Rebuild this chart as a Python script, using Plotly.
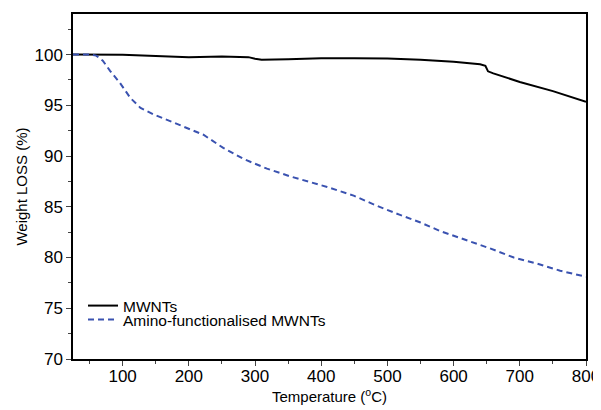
import plotly.graph_objects as go

# MWNTs (black, solid)
mwnt_T = [25, 50, 100, 150, 200, 250, 290, 300, 310, 350, 400, 450, 500, 550, 600, 640, 648, 652, 660, 700, 750, 800]
mwnt_W = [100, 100, 99.98, 99.85, 99.75, 99.8, 99.75, 99.6, 99.5, 99.55, 99.65, 99.65, 99.62, 99.5, 99.3, 99.05, 98.9, 98.35, 98.15, 97.3, 96.4, 95.35]

# Amino-functionalised MWNTs (blue, dashed)
amino_T = [25, 50, 60, 70, 81, 96, 112, 127, 147, 172, 207, 222, 237, 252, 283, 318, 353, 409, 449, 484, 519, 550, 580, 620, 655, 691, 726, 761, 800]
amino_W = [100, 100, 99.9, 99.4, 98.4, 97.2, 95.7, 94.75, 94.1, 93.4, 92.5, 92.1, 91.45, 90.8, 89.7, 88.76, 88.0, 86.95, 86.1, 85.1, 84.2, 83.45, 82.6, 81.7, 80.9, 80.0, 79.4, 78.7, 78.1]

x_ticks = [100, 200, 300, 400, 500, 600, 700, 800]
y_ticks = [70, 75, 80, 85, 90, 95, 100]

fig = go.Figure()
fig.add_trace(go.Scatter(x=mwnt_T, y=mwnt_W, mode="lines", name="MWNTs",
                         line=dict(color="black", width=2), legend="legend"))
fig.add_trace(go.Scatter(x=amino_T, y=amino_W, mode="lines", name="Amino-functionalised MWNTs",
                         line=dict(color="#3a52b0", width=2, dash="6px,4px"), legend="legend2"))

font = "Liberation Sans, Arial, sans-serif"
leg_common = dict(x=0.0195, xanchor="left", yanchor="middle",
                  bgcolor="rgba(0,0,0,0)", font=dict(size=15.5, family=font, color="black"),
                  itemwidth=30)
# the page has an 8px body margin, so the figure is sized to fill the rest of the window
fig.update_layout(
    width=593, height=402,
    margin=dict(l=65, r=15, t=6, b=51, autoexpand=False),
    paper_bgcolor="white", plot_bgcolor="white",
    font=dict(family=font, color="black", size=17),
    showlegend=True,
    legend=dict(y=0.1536, **leg_common),
    legend2=dict(y=0.113, **leg_common),
    xaxis=dict(range=[25, 800], tickvals=x_ticks, ticks="outside", ticklen=5,
               tickwidth=1.2, showline=True, linewidth=1.5, linecolor="black",
               mirror=True, showgrid=False, zeroline=False, automargin=False,
               ticklabelstandoff=-4,
               minor=dict(ticks="outside", dtick=50, tick0=0, ticklen=3, tickwidth=1.2, showgrid=False),
               title=dict(text="Temperature (<sup>o</sup>C)", font=dict(size=15, color="black"), standoff=5),
               tickfont=dict(size=17, color="black")),
    yaxis=dict(range=[70, 104], tickvals=y_ticks, ticks="outside", ticklen=5,
               tickwidth=1.2, showline=True, linewidth=1.5, linecolor="black",
               mirror=True, showgrid=False, zeroline=False, automargin=False,
               minor=dict(ticks="outside", dtick=2.5, tick0=0, ticklen=3, tickwidth=1.2, showgrid=False),
               title=dict(text="Weight LOSS (%)", font=dict(size=15, color="black"), standoff=3),
               tickfont=dict(size=17, color="black")),
)

fig.write_html("out.html")
